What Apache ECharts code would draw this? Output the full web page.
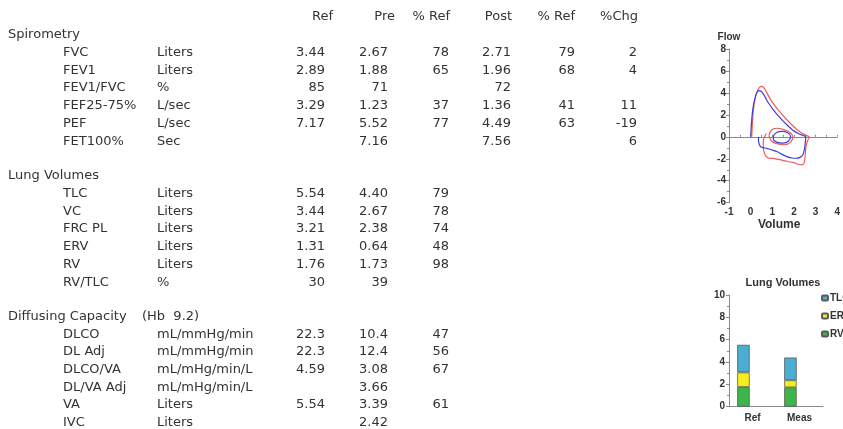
<!DOCTYPE html>
<html><head><meta charset="utf-8">
<script src="https://cdn.jsdelivr.net/npm/echarts@6/dist/echarts.min.js"></script>
<style>html,body{margin:0;padding:0;background:#fff}#c{width:843px;height:429px}</style>
</head><body><div id="c"></div>
<script>
// ---------- table data ----------
const colHeaders = ['Ref', 'Pre', '% Ref', 'Post', '% Ref', '%Chg'];

const spiroTitle = 'Spirometry';
const spiroNames = ['FVC', 'FEV1', 'FEV1/FVC', 'FEF25-75%', 'PEF', 'FET100%'];
const spiroUnits = ['Liters', 'Liters', '%', 'L/sec', 'L/sec', 'Sec'];
const spiroRef   = ['3.44', '2.89', '85', '3.29', '7.17', ''];
const spiroPre   = ['2.67', '1.88', '71', '1.23', '5.52', '7.16'];
const spiroPct   = ['78', '65', '', '37', '77', ''];
const spiroPost  = ['2.71', '1.96', '72', '1.36', '4.49', '7.56'];
const spiroPct2  = ['79', '68', '', '41', '63', ''];
const spiroChg   = ['2', '4', '', '11', '-19', '6'];

const lvTitle = 'Lung Volumes';
const lvNames = ['TLC', 'VC', 'FRC PL', 'ERV', 'RV', 'RV/TLC'];
const lvUnits = ['Liters', 'Liters', 'Liters', 'Liters', 'Liters', '%'];
const lvRef   = ['5.54', '3.44', '3.21', '1.31', '1.76', '30'];
const lvPre   = ['4.40', '2.67', '2.38', '0.64', '1.73', '39'];
const lvPct   = ['79', '78', '74', '48', '98', ''];

const dcTitle = 'Diffusing Capacity';
const dcNote = '(Hb  9.2)';
const dcNames = ['DLCO', 'DL Adj', 'DLCO/VA', 'DL/VA Adj', 'VA', 'IVC'];
const dcUnits = ['mL/mmHg/min', 'mL/mmHg/min', 'mL/mHg/min/L', 'mL/mHg/min/L', 'Liters', 'Liters'];
const dcRef   = ['22.3', '22.3', '4.59', '', '5.54', ''];
const dcPre   = ['10.4', '12.4', '3.08', '3.66', '3.39', '2.42'];
const dcPct   = ['47', '56', '67', '', '61', ''];

// ---------- flow-volume loop data [volume, flow] ----------
const preLoop = [[0,0],[0.03,1.0],[0.07,2.0],[0.14,3.0],[0.24,3.8],[0.36,4.2],[0.48,4.15],[0.62,3.8],[0.8,3.15],[1.0,2.6],[1.2,2.1],[1.45,1.55],[1.7,1.05],[1.95,0.6],[2.2,0.3],[2.45,0.1],[2.55,0],
  [2.52,-0.6],[2.49,-1.1],[2.42,-1.6],[2.3,-1.85],[2.1,-1.95],[1.9,-1.93],[1.67,-1.8],[1.45,-1.6],[1.23,-1.36],[1.0,-1.2],[0.75,-1.05],[0.5,-0.95],[0.4,-0.7],[0.36,-0.3],[0.37,0]];
const preTidal = [[1.05,0.1],[1.2,0.4],[1.45,0.5],[1.7,0.38],[1.85,0.05],[1.75,-0.38],[1.5,-0.58],[1.2,-0.48],[1.05,-0.2],[1.05,0.1]];
const postLoop = [[0.05,0],[0.08,1.2],[0.12,2.3],[0.2,3.4],[0.32,4.2],[0.48,4.6],[0.6,4.5],[0.75,4.0],[0.95,3.3],[1.15,2.75],[1.4,2.15],[1.65,1.6],[1.9,1.1],[2.15,0.65],[2.4,0.3],[2.6,0.1],[2.72,0],
  [2.62,-0.4],[2.55,-1.0],[2.52,-1.7],[2.48,-2.3],[2.38,-2.55],[2.2,-2.5],[2.0,-2.35],[1.7,-2.25],[1.4,-2.1],[1.1,-1.98],[0.85,-1.95],[0.68,-1.7],[0.6,-1.2],[0.58,-0.6],[0.62,-0.1],[0.72,0.3]];
const postTidal = [[0.85,0.1],[0.95,0.6],[1.2,0.78],[1.5,0.68],[1.8,0.42],[1.95,0.0],[1.85,-0.48],[1.55,-0.72],[1.2,-0.62],[0.95,-0.36],[0.85,0.1]];

// ---------- lung volumes bar data ----------
const barCats = ['Ref', 'Meas'];
const tlcVals = [5.54, 4.40];
const ervVals = [1.31, 0.64];
const rvVals  = [1.76, 1.73];

// ---------- build table graphics ----------
const FONT = '13px "DejaVu Sans", sans-serif';
const TXT = '#333';
const valueX = [325, 388, 449, 511, 575, 637];
const headerX = [333, 395, 450, 512, 575, 638];
const ROW = 17.7;
const g = [];
function txt(s, x, y, align) {
  if (s === '' || s == null) return;
  g.push({ type: 'text', x: x, y: y, silent: true,
    style: { text: s, font: FONT, fill: TXT, textAlign: align, textVerticalAlign: 'middle', align: align, verticalAlign: 'middle' } });
}
colHeaders.forEach((h, i) => txt(h, headerX[i], 17, 'right'));
function section(title, note, y0, names, units, cols) {
  txt(title, 8, y0, 'left');
  if (note) txt(note, 142, y0, 'left');
  names.forEach((n, r) => {
    const y = y0 + ROW * (r + 1);
    txt(n, 63, y, 'left');
    txt(units[r], 157, y, 'left');
    cols.forEach((c, k) => txt(c[r], valueX[k], y, 'right'));
  });
}
section(spiroTitle, null, 35, spiroNames, spiroUnits, [spiroRef, spiroPre, spiroPct, spiroPost, spiroPct2, spiroChg]);
section(lvTitle, null, 176, lvNames, lvUnits, [lvRef, lvPre, lvPct]);
section(dcTitle, dcNote, 316.5, dcNames, dcUnits, [dcRef, dcPre, dcPct]);

g.push({ type: 'text', x: 783, y: 283, silent: true,
  style: { text: 'Lung Volumes', font: 'bold 11px "Liberation Sans", Arial, sans-serif', fill: TXT, textAlign: 'center', textVerticalAlign: 'middle', align: 'center', verticalAlign: 'middle' } });

const axisGray = '#8a8a8a';
const lblStyle = { color: '#333', fontSize: 10, fontWeight: 'bold', fontFamily: '"Liberation Sans", Arial, sans-serif' };

const chart = echarts.init(document.getElementById('c'), null, { renderer: 'canvas' });
chart.setOption({
  animation: false,
  backgroundColor: '#fff',
  graphic: g,
  grid: [
    { left: 729, top: 49, width: 115, height: 153.7 },
    { left: 729, top: 295, width: 94, height: 111.7 }
  ],
  legend: {
    data: ['TLC', 'ERV', 'RV'], orient: 'vertical', left: 821, top: 293, padding: 0,
    itemWidth: 6, itemHeight: 5, itemGap: 8,
    textStyle: { color: '#333', fontSize: 10, fontWeight: 'bold', padding: [0, 0, 0, -3] }
  },
  xAxis: [
    { gridIndex: 0, type: 'value', min: -1, max: 4, interval: 1,
      axisLine: { show: false, onZero: false }, axisTick: { show: false }, splitLine: { show: false },
      axisLabel: Object.assign({ margin: 5 }, lblStyle),
      name: 'Volume', nameLocation: 'middle', nameGap: 5,
      nameTextStyle: { color: '#333', fontSize: 12, fontWeight: 'bold', padding: [0, 8, 0, 0] } },
    { gridIndex: 0, type: 'value', min: -1, max: 4, interval: 0.5,
      axisLine: { show: true, onZero: true, lineStyle: { color: axisGray } },
      axisTick: { show: true, length: 2, lineStyle: { color: axisGray } },
      axisLabel: { show: false }, splitLine: { show: false } },
    { gridIndex: 1, type: 'category', data: barCats,
      axisLine: { lineStyle: { color: axisGray } }, axisTick: { show: false },
      axisLabel: Object.assign({ margin: 7 }, lblStyle) }
  ],
  yAxis: [
    { gridIndex: 0, type: 'value', min: -6, max: 8, interval: 2,
      axisLine: { show: true, onZero: false, lineStyle: { color: axisGray } },
      axisTick: { show: true, length: 3, lineStyle: { color: axisGray } },
      minorTick: { show: true, splitNumber: 2, length: 2, lineStyle: { color: axisGray } },
      splitLine: { show: false },
      axisLabel: Object.assign({ margin: 3 }, lblStyle),
      name: 'Flow', nameLocation: 'end', nameGap: 7,
      nameTextStyle: { color: '#333', fontSize: 10, fontWeight: 'bold', align: 'center' } },
    { gridIndex: 1, type: 'value', min: 0, max: 10, interval: 2,
      axisLine: { show: true, onZero: false, lineStyle: { color: axisGray } },
      axisTick: { show: true, length: 3, lineStyle: { color: axisGray } },
      minorTick: { show: true, splitNumber: 2, length: 2, lineStyle: { color: axisGray } },
      splitLine: { show: false },
      axisLabel: Object.assign({ margin: 4 }, lblStyle) }
  ],
  series: [
    { type: 'line', xAxisIndex: 0, yAxisIndex: 0, data: postLoop, showSymbol: false, smooth: 0.25,
      lineStyle: { color: '#f05a5a', width: 1.2 } },
    { type: 'line', xAxisIndex: 0, yAxisIndex: 0, data: postTidal, showSymbol: false, smooth: 0.3,
      lineStyle: { color: '#f05a5a', width: 1.2 } },
    { type: 'line', xAxisIndex: 0, yAxisIndex: 0, data: preLoop, showSymbol: false, smooth: 0.25,
      lineStyle: { color: '#3b3fd8', width: 1.2 } },
    { type: 'line', xAxisIndex: 0, yAxisIndex: 0, data: preTidal, showSymbol: false, smooth: 0.3,
      lineStyle: { color: '#3b3fd8', width: 1.2 } },
    { name: 'RV', type: 'bar', xAxisIndex: 2, yAxisIndex: 1, stack: 'lv', barWidth: 12.5, barGap: '45%',
      data: rvVals, itemStyle: { color: '#3db54a', borderColor: '#5a5a5a', borderWidth: 0.8 } },
    { name: 'ERV', type: 'bar', xAxisIndex: 2, yAxisIndex: 1, stack: 'lv', barWidth: 12.5, barGap: '45%',
      data: ervVals, itemStyle: { color: '#f4ee1c', borderColor: '#5a5a5a', borderWidth: 0.8 } },
    { name: 'TLC', type: 'bar', xAxisIndex: 2, yAxisIndex: 1, stack: 'lv', barWidth: 12.5, barGap: '45%',
      data: tlcVals.map((t, i) => +(t - rvVals[i] - ervVals[i]).toFixed(2)),
      itemStyle: { color: '#4aaed2', borderColor: '#5a5a5a', borderWidth: 0.8 } },
    { name: 'spacer', type: 'bar', xAxisIndex: 2, yAxisIndex: 1, barWidth: 12.5, barGap: '45%',
      data: ['-', '-'] }
  ]
});
</script></body></html>
